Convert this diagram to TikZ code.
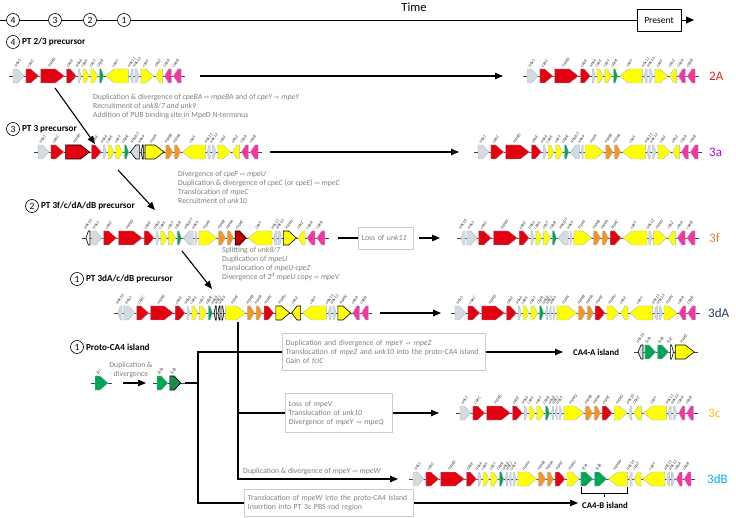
\documentclass[tikz,border=0pt]{standalone}
\usepackage{fontspec}
\setmainfont{Carlito}
\newfontfamily\symfont{DejaVu Sans}
\usetikzlibrary{arrows.meta,positioning}
\pgfdeclarelayer{bg}
\pgfsetlayers{bg,main}

\definecolor{gengray}{HTML}{D5DAE1}
\definecolor{genline}{HTML}{A8B8CC}
\definecolor{genred}{HTML}{E3000F}
\definecolor{gendred}{HTML}{C00000}
\definecolor{genyel}{HTML}{FFFF00}
\definecolor{gengrn}{HTML}{00A651}
\definecolor{gendgrn}{HTML}{1E8B45}
\definecolor{genorg}{HTML}{F7941D}
\definecolor{genpnk}{HTML}{F535A0}
\definecolor{desccol}{HTML}{7F7F7F}
\definecolor{boxcol}{HTML}{CCCCCC}
\definecolor{col2A}{HTML}{E0201E}
\definecolor{col3a}{HTML}{B000E0}
\definecolor{col3f}{HTML}{ED7D31}
\definecolor{col3dA}{HTML}{1F3864}
\definecolor{col3c}{HTML}{FFC000}
\definecolor{col3dB}{HTML}{00B0F0}

\tikzset{
  gene/.style={line width=0.4pt, draw=genline},
  gGray/.style={fill=gengray},
  gGrayK/.style={fill=gengray, draw=black, line width=0.6pt},
  gWhiteK/.style={fill=white, draw=black, line width=0.6pt},
  gRed/.style={fill=genred},
  gRedK/.style={fill=genred, draw=black, line width=0.6pt},
  gDRedK/.style={fill=gendred, draw=black, line width=0.6pt},
  gYel/.style={fill=genyel},
  gYelK/.style={fill=genyel, draw=black, line width=0.6pt},
  gGrn/.style={fill=gengrn},
  gDGrnK/.style={fill=gendgrn, draw=black, line width=0.6pt},
  gOrg/.style={fill=genorg},
  gPnk/.style={fill=genpnk},
  % present-day clusters: no highlighted genes
  plain/.style={gRedK/.style={gRed}, gYelK/.style={gYel}, gGrayK/.style={gGray},
    gWhiteK/.style={gGray}, gDRedK/.style={gRed}},
  glab/.style={font=\fontsize{4.4}{5}\selectfont\itshape, text=black!80, rotate=52,
    anchor=south west, inner sep=0pt},
  backbone/.style={line width=0.6pt, black!75},
  num/.style={circle, draw, line width=0.6pt, fill=white, inner sep=0pt,
    minimum size=13pt, font=\fontsize{9.5}{9.5}\selectfont},
  head/.style={font=\fontsize{9.2}{10}\selectfont\bfseries, inner sep=1pt},
  desc/.style={font=\fontsize{7.8}{9}\selectfont, text=desccol, align=left, inner sep=0pt},
  descbox/.style={desc, draw=boxcol, line width=0.6pt, inner xsep=3.5pt, inner ysep=2pt},
  clab/.style={font=\fontsize{13}{13}\selectfont, anchor=west, inner sep=0pt},
  isl/.style={font=\fontsize{8.8}{9}\selectfont\bfseries, anchor=west, inner sep=0pt},
  arr/.style={line width=1.1pt, -{Triangle[length=8pt,width=6.5pt]}},
  tree/.style={line width=1.1pt},
  axis/.style={line width=0.9pt}
}

\newcommand\ra{{\symfont\fontsize{6.3}{6.3}\selectfont\char"21E8}}

% #1 name, #2 x of first gene, #3 row y, #4 gene list (width/dir/style/label)
\newcommand\genecluster[4]{%
  \xdef\gpos{#2}%
  \foreach \gw/\gd/\gc/\gl [count=\gi] in #4 {%
    \pgfmathsetmacro\ga{\gpos}%
    \pgfmathsetmacro\gb{\gpos+\gw}%
    \pgfmathsetmacro\gt{min(0.6*\gw,9)}%
    \if r\gd
      \draw[gene,\gc] (\gb,#3-7) -- (\ga+\gt,#3-7) -- (\ga,#3) -- (\ga+\gt,#3+7) -- (\gb,#3+7) -- cycle;
    \else
      \draw[gene,\gc] (\ga,#3-7) -- (\gb-\gt,#3-7) -- (\gb,#3) -- (\gb-\gt,#3+7) -- (\ga,#3+7) -- cycle;
    \fi
    \node[glab] (#1-\gi) at (\ga+0.5*\gw-2.5,#3-8) {\gl};
    \pgfmathsetmacro\gn{\gb+1.8}%
    \xdef\gpos{\gn}%
  }%
  \coordinate (#1-s) at (#2-4,#3);
  \coordinate (#1-e) at (\gpos+2.2,#3);
  \begin{pgfonlayer}{bg}
    \draw[backbone] (#1-s) -- (#1-e);
  \end{pgfonlayer}
}

\def\genesTwoThree{11/f/gGray/unk5, 13/f/gRed/cpeC, 24/f/gRed/mpeD, 10/f/gRed/cpeE,
  3/f/gGray/unk6, 6/f/gYel/cpeS, 7/f/gYel/cpeT, 4/f/gGrn/cpeR, 23/r/gYel/cpeY,
  3/r/gGray/unk11, 4/f/gGray/unk12, 13/f/gYel/cpeF, 7/r/gYel/cpeZ, 7/r/gPnk/cpeA,
  8/r/gPnk/cpeB}
\def\genesThree{11/f/gGray/unk5, 13/f/gRed/cpeC, 24/f/gRedK/mpeD, 10/f/gRed/cpeE,
  3/f/gGray/unk6, 6/f/gYel/cpeS, 7/f/gYel/cpeT, 4/f/gGrn/cpeR, 9/r/gGrayK/{unk8/7},
  2/r/gWhiteK/unk9, 19/f/gYelK/mpeY, 7/f/gOrg/mpeB, 6/f/gOrg/mpeA, 23/r/gYel/cpeY,
  3/r/gGray/unk11, 4/f/gGray/unk12, 13/f/gYel/cpeF, 7/r/gYel/cpeZ, 7/r/gPnk/cpeA,
  8/r/gPnk/cpeB}
\def\genesThreeF{4/r/gWhiteK/unk10, 10/f/gGray/unk5, 13/f/gRed/cpeC, 24/f/gRed/mpeD,
  10/f/gRed/cpeE, 3/f/gGray/unk6, 6/f/gYel/cpeS, 7/f/gYel/cpeT, 4/f/gGrn/cpeR,
  10/r/gGray/{unk8/7}, 2/f/gGray/unk9, 18/f/gYel/mpeY, 7/f/gOrg/mpeB, 6/f/gOrg/mpeA,
  11/f/gDRedK/mpeC, 24/r/gYel/cpeY, 3/r/gGray/unk11, 3/f/gGray/unk12, 13/f/gYelK/mpeU,
  7/r/gYel/cpeZ, 8/r/gPnk/cpeA, 8/r/gPnk/cpeB}
\def\genesThreeFb{4/r/gGray/unk10, 10/f/gGray/unk5, 13/f/gRed/cpeC, 24/f/gRed/mpeD,
  10/f/gRed/cpeE, 3/f/gGray/unk6, 6/f/gYel/cpeS, 7/f/gYel/cpeT, 4/f/gGrn/cpeR,
  10/r/gGray/{unk8/7}, 2/f/gGray/unk9, 18/f/gYel/mpeY, 7/f/gOrg/mpeB, 6/f/gOrg/mpeA,
  11/f/gRed/mpeC, 24/r/gYel/cpeY, 3/f/gGray/unk12, 13/f/gYel/mpeU,
  7/r/gYel/cpeZ, 8/r/gPnk/cpeA, 8/r/gPnk/cpeB}
\def\genesThreeDAp{4/r/gGray/unk10, 11/f/gGray/unk5, 12/f/gRed/cpeC, 23/f/gRed/mpeD,
  10/f/gRed/cpeE, 3/f/gGray/unk6, 6/f/gYel/cpeS, 7/f/gYel/cpeT, 4/f/gGrn/cpeR,
  2/r/gWhiteK/unk8, 2/r/gWhiteK/unk7, 2/f/gWhiteK/unk9, 20/f/gYel/mpeY, 7/f/gOrg/mpeB,
  6/f/gOrg/mpeA, 10/f/gRed/mpeC, 14/f/gYelK/mpeU, 9/r/gYelK/cpeZ, 24/r/gYel/cpeY,
  3/r/gGray/unk11, 3/f/gGray/unk12, 13/f/gYelK/mpeV, 7/r/gPnk/cpeA, 7/r/gPnk/cpeB}
\def\genesThreeDA{11/f/gGray/unk5, 12/f/gRed/cpeC, 23/f/gRed/mpeD, 10/f/gRed/cpeE,
  3/f/gGray/unk6, 6/f/gYel/cpeS, 7/f/gYel/cpeT, 4/f/gGrn/cpeR, 2/r/gGray/unk8,
  2/r/gGray/unk7, 2/f/gGray/unk9, 20/f/gYel/mpeY, 7/f/gOrg/mpeB, 6/f/gOrg/mpeA,
  10/f/gRed/mpeC, 12/f/gYel/mpeU, 7/r/gYel/cpeZ, 23/r/gYel/cpeY, 3/r/gGray/unk11,
  3/f/gGray/unk12, 13/f/gYel/mpeV, 7/r/gPnk/cpeA, 8/r/gPnk/cpeB}
\def\genesThreeC{11/f/gGray/unk5, 12/f/gRed/cpeC, 24/f/gRed/mpeD, 10/f/gRed/cpeE,
  3/f/gGray/unk6, 6/f/gYel/cpeS, 7/f/gYel/cpeT, 4/f/gGrn/cpeR, 2/r/gGray/unk8,
  2/r/gGray/unk7, 3/f/gGray/unk9, 20/f/gYel/mpeQ, 7/f/gOrg/mpeB, 6/f/gOrg/mpeA,
  10/f/gRed/mpeC, 13/f/gYel/mpeU, 3/r/gGray/unk10, 8/r/gYel/cpeZ, 23/r/gYel/cpeY,
  3/r/gGray/unk11, 4/f/gGray/unk12, 6/r/gPnk/cpeA, 7/r/gPnk/cpeB}
\def\genesThreeDB{11/f/gGray/unk5, 13/f/gRed/cpeC, 24/f/gRed/mpeD, 10/f/gRed/cpeE,
  3/f/gGray/unk6, 6/f/gYel/cpeS, 7/f/gYel/cpeT, 4/f/gGrn/cpeR, 2/r/gGray/unk8,
  2/r/gGray/unk7, 3/f/gGray/unk9, 19/f/gYel/mpeY, 7/f/gOrg/mpeB, 6/f/gOrg/mpeA,
  10/f/gRed/mpeC, 12/f/gYel/mpeU, 12/f/gGrn/fciA, 12/f/gGrn/fciB, 19/r/gYel/mpeW,
  3/r/gGray/unk10, 7/r/gYel/cpeZ, 22/r/gYel/cpeY, 3/r/gGray/unk11, 3/f/gGray/unk12,
  6/r/gPnk/cpeA, 7/r/gPnk/cpeB}
\def\genesFci{13/f/gGrn/fci}
\def\genesFciAB{11/f/gGrn/fciA, 11/f/gDGrnK/fciB}
\def\genesCAA{5/r/gGrayK/unk10, 11/f/gGrn/fciA, 11/f/gGrn/fciB, 3/f/gWhiteK/fciC,
  19/f/gYelK/mpeZ}

\begin{document}
\begin{tikzpicture}[x=1pt,y=-1pt]
\useasboundingbox (0,0) rectangle (736,518);

% time axis
\node[num] (t4) at (13,20) {4};
\node[num] (t3) at (55,20) {3};
\node[num] (t2) at (90,20) {2};
\node[num] (t1) at (124,20) {1};
\node[draw, line width=0.8pt, fill=white, minimum width=44pt, minimum height=22pt,
  font=\fontsize{9.5}{10}\selectfont] (present) at (659,20) {Present};
\node[font=\fontsize{12.5}{13}\selectfont] (time) at (414,7) {Time};
\coordinate (tl-s) at (0,20);
\coordinate (tl-e) at (694,20);
\draw[axis] (tl-s) -- (t4) -- (t3) -- (t2) -- (t1) -- (present);
\draw[axis,-{Triangle[length=8pt,width=7pt]}] (present) -- (tl-e);

% step 4
\node[num] (n4) at (13,42) {4};
\node[head, right=1pt of n4] (h4) {PT 2/3 precursor};
\genecluster{p4}{13}{76}{\genesTwoThree}
\begin{scope}[plain]
\genecluster{c2A}{527}{76}{\genesTwoThree}
\end{scope}
\node[clab, text=col2A] (l2A) at (709,76) {2A};
\coordinate (r4s) at (200,76);
\coordinate (r4e) at (503,76);
\draw[arr] (r4s) -- (r4e);
\coordinate (d4s) at (55,88);
\coordinate (d4e) at (95,144);
\draw[arr] (d4s) -- (d4e);
\node[desc, anchor=north west] (t43) at (93,93.5) {Duplication \& divergence of \textit{cpeBA} \ra{} \textit{mpeBA} and of \textit{cpeY} \ra{} \textit{mpeY}\\
  Recruitment of \textit{unk8/7 and unk9}\\
  Addition of PUB binding site in MpeD N-terminus};

% step 3
\node[num] (n3) at (13,129) {3};
\node[head, right=1pt of n3] (h3) {PT 3 precursor};
\genecluster{p3}{38}{152}{\genesThree}
\begin{scope}[plain]
\genecluster{c3a}{478}{152}{\genesThree}
\end{scope}
\node[clab, text=col3a] (l3a) at (709,152) {3a};
\coordinate (r3s) at (270,152);
\coordinate (r3e) at (459,152);
\draw[arr] (r3s) -- (r3e);
\coordinate (d3s) at (118,170);
\coordinate (d3e) at (155,210);
\draw[arr] (d3s) -- (d3e);
\node[desc, anchor=north west] (t32) at (178,170.5) {Divergence of \textit{cpeF} \ra{} \textit{mpeU}\\
  Duplication \& divergence of \textit{cpeC} (or \textit{cpeE}) \ra{} \textit{mpeC}\\
  Translocation of \textit{mpeC}\\
  Recruitment of \textit{unk10}};

% step 2
\node[num] (n2) at (32,206) {2};
\node[head, right=1pt of n2] (h2) {PT 3f/c/dA/dB precursor};
\genecluster{p2}{86}{238}{\genesThreeF}
\begin{scope}[plain]
\genecluster{c3f}{461}{238}{\genesThreeFb}
\end{scope}
\node[clab, text=col3f] (l3f) at (709,238) {3f};
\node[descbox, anchor=west, text width=48pt, minimum height=22pt] (loss) at (358,238) {Loss of \textit{unk11}};
\coordinate (r2s) at (338,238);
\coordinate (r2m) at (419,238);
\coordinate (r2e) at (440,238);
\draw[tree] (r2s) -- (loss);
\draw[arr] (r2m) -- (r2e);
\coordinate (d2s) at (182,251);
\coordinate (d2e) at (212,289);
\draw[arr] (d2s) -- (d2e);
\node[desc, anchor=north west] (t21) at (222,247) {Splitting of \textit{unk8/7}\\
  Duplication of \textit{mpeU}\\
  Translocation of \textit{mpeU-cpeZ}\\
  Divergence of 2\textsuperscript{d} \textit{mpeU} copy \ra{} \textit{mpeV}};

% step 1
\node[num] (n1) at (77,279) {1};
\node[head, right=1pt of n1] (h1) {PT 3dA/c/dB precursor};
\genecluster{p1}{118}{313}{\genesThreeDAp}
\begin{scope}[plain]
\genecluster{c3dA}{455}{313}{\genesThreeDA}
\end{scope}
\node[clab, text=col3dA] (l3dA) at (708,313) {3dA};
\coordinate (r1s) at (380,313);
\coordinate (r1e) at (441,313);
\draw[arr] (r1s) -- (r1e);

% proto-CA4 island
\node[num] (n0) at (77,347) {1};
\node[head, right=1pt of n0] (h0) {Proto-CA4 island};
\genecluster{pro}{95}{383}{\genesFci}
\genecluster{proAB}{157}{383}{\genesFciAB}
\coordinate (rps) at (123,383);
\coordinate (rpe) at (146,383);
\draw[arr] (rps) -- (rpe);
\node[desc, align=center] (tp) at (131,369.5) {Duplication \&\\ divergence};

% CA4-A branch
\node[descbox, anchor=west, text width=196pt, minimum height=37pt] (boxA) at (282,352) {Duplication and divergence of \textit{mpeY} \ra{} \textit{mpeZ}\\
  Translocation of \textit{mpeZ} and \textit{unk10} into the proto-CA4 island\\
  Gain of \textit{fciC}};
\coordinate (rAe) at (563,352);
\draw[arr] (boxA.east) -- (rAe);
\node[isl] (islA) at (573,352) {CA4-A island};
\genecluster{cA}{638}{352}{\genesCAA}

% 3c branch
\node[descbox, anchor=west, text width=100pt, minimum height=39pt] (boxC) at (285,413) {Loss of \textit{mpeV}\\
  Translocation of \textit{unk10}\\
  Divergence of \textit{mpeY} \ra{} \textit{mpeQ}};
\coordinate (rCe) at (439,413);
\draw[arr] (boxC.east) -- (rCe);
\begin{scope}[plain]
\genecluster{c3c}{460}{413}{\genesThreeC}
\end{scope}
\node[clab, text=col3c] (l3c) at (708,413) {3c};

% 3dB branch
\coordinate (rWe) at (398,479);
\node[desc, anchor=west] (tW) at (243,471) {Duplication \& divergence of \textit{mpeY} \ra{} \textit{mpeW}};
\begin{scope}[plain]
\genecluster{c3dB}{413}{479}{\genesThreeDB}
\end{scope}
\node[clab, text=col3dB] (l3dB) at (707,479) {3dB};
\node[descbox, anchor=west, text width=162pt, minimum height=27pt] (boxB) at (244,503) {Translocation of \textit{mpeW} into the proto-CA4 island\\
  Insertion into PT 3c PBS rod region};
\coordinate (rBe) at (578,503);
\draw[arr] (boxB.east) -- (rBe);
\node[isl] (islB) at (582,505) {CA4-B island};
\draw[line width=0.7pt] (581,487) -- (581,493) -- (627,493) -- (627,487);
\draw[line width=0.7pt] (604,493) -- (604,496.5);

% tree
\coordinate (j1) at (198,383);
\coordinate (j2) at (238,322);
\draw[tree] (proAB-e) -- (j1);
\draw[tree] (boxA.west) -| (j1) |- (boxB.west);
\draw[tree] (j2) |- (boxC.west);
\draw[arr] (j2) |- (rWe);
\end{tikzpicture}
\end{document}
